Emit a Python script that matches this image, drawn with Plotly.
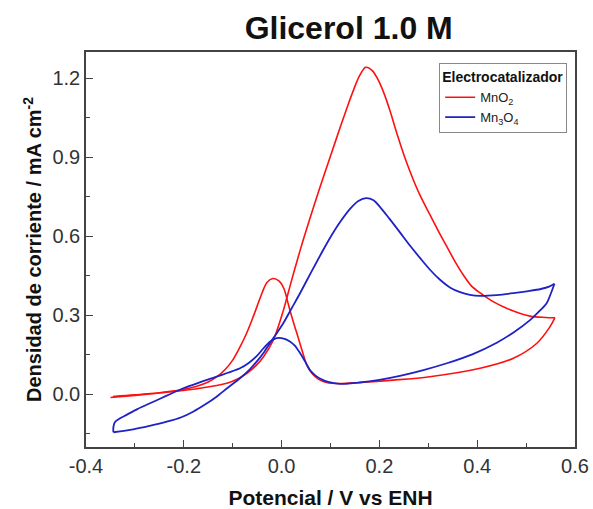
import plotly.graph_objects as go

# ---- data ----
mno2_potential = [-0.350, -0.300, -0.235, -0.167, -0.112, -0.090, -0.071, -0.052, -0.037, -0.017,
                  0.003, 0.020, 0.040, 0.060, 0.080, 0.100, 0.120, 0.135, 0.148, 0.160,
                  0.172, 0.185, 0.198, 0.210, 0.222, 0.235, 0.250, 0.265, 0.282, 0.303,
                  0.320, 0.338, 0.355, 0.372, 0.388, 0.406, 0.430, 0.460, 0.508, 0.540, 0.559,
                  0.549, 0.522, 0.474, 0.406, 0.303, 0.228, 0.160, 0.119, 0.092,
                  0.075, 0.062, 0.052, 0.043, 0.034, 0.024, 0.014, 0.005, -0.005, -0.018,
                  -0.030, -0.040, -0.050, -0.060, -0.072, -0.085, -0.100, -0.115, -0.132, -0.150,
                  -0.175, -0.205, -0.250, -0.300, -0.345]
mno2_current = [-0.012, -0.004, 0.008, 0.023, 0.042, 0.058, 0.080, 0.110, 0.143, 0.206,
                0.315, 0.430, 0.560, 0.680, 0.795, 0.905, 1.015, 1.095, 1.160, 1.212,
                1.242, 1.230, 1.192, 1.140, 1.075, 0.995, 0.910, 0.835, 0.760, 0.683,
                0.622, 0.561, 0.503, 0.452, 0.412, 0.385, 0.355, 0.327, 0.297, 0.292, 0.291,
                0.257, 0.194, 0.137, 0.099, 0.067, 0.054, 0.045, 0.041, 0.045,
                0.058, 0.080, 0.110, 0.160, 0.215, 0.275, 0.340, 0.400, 0.430, 0.440,
                0.425, 0.385, 0.335, 0.285, 0.230, 0.180, 0.130, 0.095, 0.067, 0.047,
                0.030, 0.017, 0.006, -0.002, -0.008]

mn3o4_potential = [-0.344, -0.303, -0.270, -0.235, -0.205, -0.181, -0.155, -0.133, -0.110, -0.085,
                   -0.065, -0.051, -0.036, -0.024, -0.010, 0.004, 0.020, 0.038, 0.060, 0.085,
                   0.102, 0.120, 0.140, 0.157, 0.173, 0.188, 0.201, 0.220, 0.242, 0.262,
                   0.283, 0.303, 0.324, 0.345, 0.365, 0.385, 0.406, 0.440, 0.474, 0.505,
                   0.530, 0.547, 0.558,
                   0.550, 0.542, 0.525, 0.508, 0.475, 0.440, 0.390, 0.338, 0.290, 0.242,
                   0.200, 0.160, 0.119, 0.095, 0.085, 0.070, 0.058, 0.048, 0.038, 0.027,
                   0.017, 0.004, -0.010, -0.024, -0.037, -0.051, -0.068, -0.085, -0.110, -0.133,
                   -0.165, -0.201, -0.235, -0.269, -0.295, -0.317, -0.332, -0.341, -0.344, -0.344]
mn3o4_current = [-0.144, -0.133, -0.120, -0.104, -0.087, -0.066, -0.037, -0.009, 0.025, 0.061,
                 0.095, 0.124, 0.160, 0.194, 0.232, 0.272, 0.325, 0.385, 0.462, 0.548,
                 0.603, 0.655, 0.704, 0.734, 0.745, 0.737, 0.712, 0.668, 0.615, 0.566,
                 0.518, 0.474, 0.435, 0.405, 0.388, 0.378, 0.374, 0.377, 0.384, 0.392,
                 0.400, 0.409, 0.420,
                 0.380, 0.346, 0.312, 0.282, 0.236, 0.196, 0.152, 0.118, 0.092, 0.070,
                 0.055, 0.045, 0.040, 0.047, 0.054, 0.070, 0.092, 0.125, 0.156, 0.185,
                 0.201, 0.212, 0.213, 0.200, 0.175, 0.145, 0.118, 0.099, 0.082, 0.067,
                 0.047, 0.023, -0.005, -0.034, -0.056, -0.078, -0.093, -0.106, -0.125, -0.144]

series_names = ["MnO<sub>2</sub>", "Mn<sub>3</sub>O<sub>4</sub>"]
series_colors = ["#FF1010", "#1F22C4"]
series_widths = [1.6, 1.8]

x_ticks = [-0.4, -0.2, 0.0, 0.2, 0.4, 0.6]
y_ticks = [0.0, 0.3, 0.6, 0.9, 1.2]

FONT = "Liberation Sans, Arial, sans-serif"

fig = go.Figure()
for name, color, width, xs, ys in zip(series_names, series_colors, series_widths,
                                      [mno2_potential, mn3o4_potential],
                                      [mno2_current, mn3o4_current]):
    # split the voltammogram at the switching potential so the vertex stays sharp
    turn = xs.index(max(xs))
    for k, (sx, sy) in enumerate([(xs[:turn + 1], ys[:turn + 1]), (xs[turn:], ys[turn:])]):
        fig.add_trace(go.Scatter(x=sx, y=sy, mode="lines", name=name, legendgroup=name,
                                 showlegend=(k == 0),
                                 line=dict(color=color, width=width, shape="spline", smoothing=0.9)))

axis_common = dict(
    showline=True, linecolor="#444444", linewidth=1.5, mirror=True,
    ticks="inside", ticklen=7, tickwidth=1.3, tickcolor="#444444",
    showgrid=False, zeroline=False,
    tickfont=dict(family=FONT, size=20, color="#333333"),
    minor=dict(ticks="inside", ticklen=4, tickwidth=1.2, tickcolor="#444444"),
)

fig.update_xaxes(range=[-0.4, 0.6], tickvals=x_ticks, ticktext=[f"{v:.1f}" for v in x_ticks],
                 minor_dtick=0.1, ticklabelstandoff=0,
                 title=dict(text="<b>Potencial / V vs ENH</b>", font=dict(family=FONT, size=21, color="#111111"),
                            standoff=19),
                 **axis_common)
fig.update_yaxes(range=[-0.2, 1.3], tickvals=y_ticks, ticktext=[f"{v:.1f}" for v in y_ticks],
                 minor_dtick=0.15, minor_tick0=0.0, ticklabelstandoff=0,
                 title=dict(text="<b>Densidad de corriente / mA cm<sup>-2</sup></b>",
                            font=dict(family=FONT, size=20, color="#111111"), standoff=5),
                 **axis_common)

fig.update_layout(
    width=593, height=509,
    margin=dict(l=86, r=18, t=52, b=62, autoexpand=False),
    paper_bgcolor="white", plot_bgcolor="white",
    title=dict(text="<b>Glicerol 1.0 M</b>", x=0.588, xanchor="center", y=0.945, yanchor="middle",
               font=dict(family=FONT, size=32, color="#111111")),
    legend=dict(
        title=dict(text="<b>Electrocatalizador</b>", font=dict(family=FONT, size=14, color="#111111")),
        font=dict(family=FONT, size=13, color="#222222"),
        x=0.984, xanchor="right", y=0.972, yanchor="top",
        bordercolor="#888888", borderwidth=1, bgcolor="white",
        itemwidth=30, tracegroupgap=0,
    ),
    showlegend=True,
)

fig.write_html("out.html", config={"displayModeBar": False},
               post_script="document.body.style.margin='0';")
